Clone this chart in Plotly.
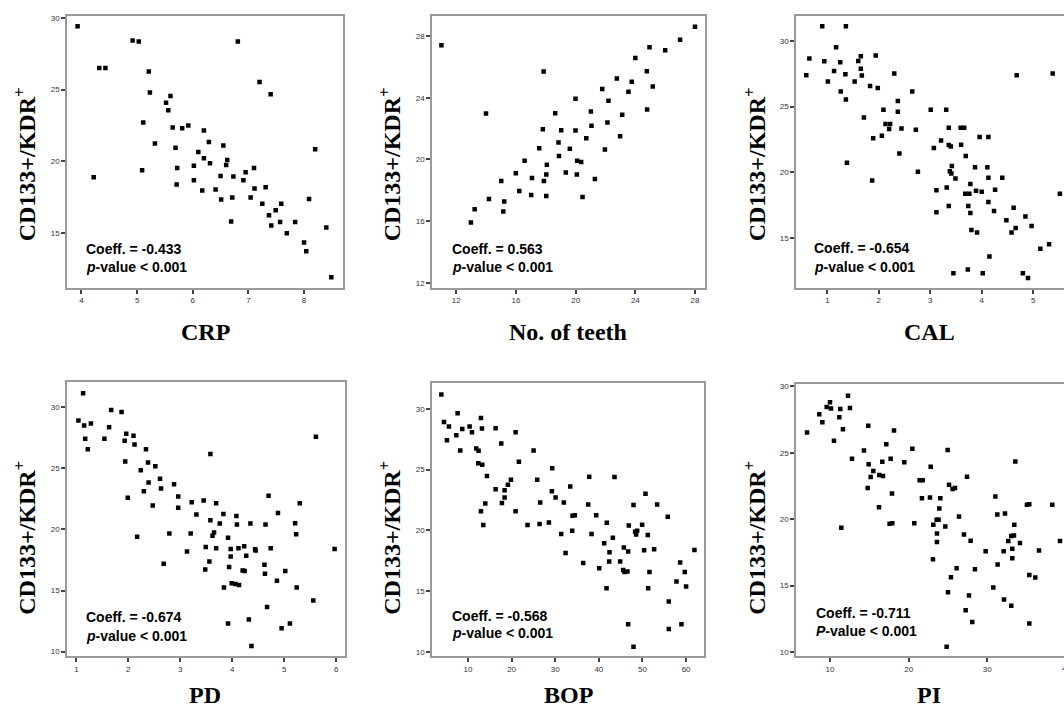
import plotly.graph_objects as go

W, H = 1064, 709

# ---------------- data ----------------
crp_x = [3.93, 4.92, 5.03, 6.81, 4.32, 4.43, 5.21, 7.20, 5.23, 7.40,
         5.60, 5.52, 5.56, 5.11, 5.64, 5.81, 5.92, 6.20, 6.29, 5.32,
         6.55, 5.69, 8.20, 6.10, 6.20, 6.62, 6.31, 6.60, 6.02, 5.72,
         7.10, 6.95, 5.09, 4.22, 6.50, 6.73, 6.91, 6.02, 5.71, 7.11,
         7.31, 6.17, 6.41, 7.04, 6.71, 6.51, 8.09, 7.25, 7.59, 7.49,
         7.37, 6.69, 7.41, 7.57, 7.84, 7.69, 8.40, 8.00, 8.04, 8.49]
crp_y = [29.42, 28.43, 28.36, 28.36, 26.51, 26.51, 26.26, 25.54, 24.80, 24.67,
         24.55, 24.09, 23.56, 22.70, 22.36, 22.31, 22.49, 22.15, 21.34, 21.25,
         21.11, 20.95, 20.85, 20.65, 20.21, 20.09, 19.86, 19.75, 19.70, 19.54,
         19.54, 19.24, 19.38, 18.89, 18.97, 18.94, 18.68, 18.68, 18.38, 18.11,
         18.20, 17.97, 18.04, 17.48, 17.48, 17.34, 17.37, 17.04, 17.04, 16.58,
         16.24, 15.80, 15.52, 15.77, 15.77, 14.99, 15.38, 14.34, 13.72, 11.92]

teeth_x = [11.0, 28.0, 27.0, 26.0, 24.95, 24.0, 17.85, 24.77, 22.76, 23.76,
           25.17, 23.54, 21.78, 19.99, 22.2, 13.99, 18.63, 21.02, 23.12, 24.79,
           17.80, 19.03, 19.99, 21.06, 22.13, 22.98, 18.85, 20.71, 17.56, 19.61,
           21.96, 16.58, 18.88, 20.10, 20.37, 18.07, 15.99, 18.03, 19.34, 20.08,
           17.07, 21.29, 15.01, 17.87, 16.22, 17.02, 18.03, 20.46, 14.19, 15.21,
           15.15, 13.23, 12.98]
teeth_y = [27.40, 28.60, 27.76, 27.08, 27.27, 26.58, 25.70, 25.72, 25.25, 25.03,
           24.73, 24.39, 24.56, 23.94, 23.81, 22.97, 22.99, 23.10, 22.90, 23.23,
           21.96, 21.89, 21.87, 22.19, 22.39, 21.51, 21.10, 21.38, 20.73, 20.69,
           20.65, 19.91, 20.22, 19.91, 19.83, 19.66, 19.10, 19.03, 19.16, 19.03,
           18.80, 18.73, 18.60, 18.60, 17.96, 17.70, 17.63, 17.57, 17.44, 17.27,
           16.62, 16.77, 15.91]

cal_x = [0.90, 1.36, 1.17, 0.65, 0.94, 0.59, 1.13, 1.25, 1.60, 1.65,
         1.94, 1.65, 1.67, 1.35, 1.01, 1.53, 2.30, 1.26, 1.36, 1.83,
         1.98, 2.65, 2.37, 2.37, 2.09, 1.71, 3.01, 3.31, 2.13, 2.22,
         2.20, 2.44, 2.72, 3.36, 3.59, 3.66, 1.89, 2.06, 3.21, 3.96,
         4.13, 3.07, 3.36, 3.40, 3.60, 2.40, 3.69, 1.38, 3.42, 3.87,
         4.11, 2.76, 3.38, 3.41, 3.49, 4.13, 4.40, 1.87, 3.78, 3.32,
         3.12, 3.89, 4.00, 4.26, 3.68, 3.76, 5.52, 4.13, 3.36, 3.74,
         4.62, 4.24, 3.12, 3.78, 4.48, 4.85, 4.97, 4.66, 3.80, 3.91,
         4.58, 5.14, 5.31, 4.15, 3.45, 3.73, 4.02, 4.80, 4.90, 4.68,
         5.38]
cal_y = [31.14, 31.14, 29.54, 28.68, 28.46, 27.39, 27.72, 28.38, 28.48, 28.84,
         28.91, 27.90, 27.37, 27.47, 26.91, 26.91, 27.52, 26.15, 25.54, 26.58,
         26.43, 26.15, 25.44, 24.61, 24.76, 24.18, 24.76, 24.76, 23.67, 23.67,
         23.29, 23.34, 23.24, 23.39, 23.39, 23.39, 22.58, 22.78, 22.41, 22.68,
         22.68, 21.85, 22.08, 21.95, 22.10, 21.42, 21.24, 20.71, 20.48, 20.38,
         20.38, 20.03, 20.08, 19.90, 19.52, 19.57, 19.57, 19.37, 19.09, 18.84,
         18.63, 18.58, 18.51, 18.66, 18.35, 18.35, 18.35, 17.72, 17.42, 17.42,
         17.29, 17.04, 16.94, 16.89, 16.33, 16.61, 15.90, 15.75, 15.59, 15.39,
         15.39, 14.15, 14.51, 13.57, 12.28, 12.58, 12.28, 12.28, 11.92, 27.39,
         27.52]

pd_x = [1.13, 1.04, 1.15, 1.28, 1.17, 1.22, 1.67, 1.87, 1.63, 1.54,
        1.96, 1.93, 2.10, 2.12, 2.34, 1.94, 2.38, 2.52, 2.24, 2.61,
        2.39, 2.63, 2.88, 2.30, 1.99, 2.96, 2.47, 2.96, 3.22, 3.45,
        3.69, 3.58, 3.31, 3.58, 3.83, 3.76, 4.08, 4.09, 4.35, 4.64,
        4.70, 4.88, 5.30, 5.21, 5.23, 5.61, 2.17, 2.79, 3.20, 3.65,
        3.62, 3.92, 3.49, 3.69, 3.97, 4.12, 4.23, 4.44, 4.45, 4.74,
        5.97, 3.13, 3.56, 3.97, 4.27, 4.62, 3.48, 3.94, 4.20, 4.24,
        4.63, 5.02, 2.68, 4.86, 3.99, 4.06, 4.13, 3.84, 5.24, 5.56,
        4.67, 4.32, 3.92, 4.95, 5.11, 4.37]
pd_y = [31.16, 28.92, 28.51, 28.68, 27.43, 26.57, 29.78, 29.62, 28.38, 27.43,
        27.84, 27.27, 27.68, 26.97, 26.57, 25.57, 25.49, 25.19, 24.86, 24.16,
        23.84, 23.35, 23.70, 23.14, 22.59, 22.70, 21.97, 21.78, 22.24, 22.38,
        22.14, 26.19, 21.22, 20.76, 21.27, 20.49, 21.11, 20.41, 20.49, 20.41,
        22.76, 21.35, 22.14, 20.51, 19.62, 27.59, 19.41, 19.68, 19.68, 19.76,
        19.49, 19.32, 18.57, 18.46, 18.41, 18.46, 18.62, 18.38, 18.27, 18.46,
        18.41, 18.19, 17.38, 17.78, 17.84, 17.11, 16.73, 16.92, 16.65, 16.59,
        16.38, 16.59, 17.19, 15.81, 15.59, 15.54, 15.46, 15.24, 15.24, 14.19,
        13.65, 12.62, 12.30, 11.92, 12.30, 10.46]

bop_x = [3.9, 4.5, 5.65, 5.19, 7.63, 7.33, 8.24, 8.70, 10.38, 10.92,
         12.98, 13.21, 11.91, 12.44, 12.37, 13.28, 14.35, 16.34, 17.63, 20.92,
         16.34, 18.40, 19.16, 19.85, 18.40, 17.79, 21.68, 25.04, 25.88, 12.98,
         13.97, 13.51, 20.92, 23.66, 26.56, 26.41, 28.55, 29.31, 29.24, 30.08,
         31.98, 33.44, 33.97, 34.50, 33.89, 31.37, 32.37, 37.79, 37.56, 39.39,
         38.32, 41.22, 41.83, 43.21, 42.44, 42.37, 43.59, 36.41, 40.08, 41.76,
         44.89, 45.73, 46.72, 45.57, 45.88, 46.56, 46.87, 47.94, 48.32, 48.78,
         48.55, 49.92, 50.69, 50.38, 51.22, 51.60, 51.30, 52.67, 53.36, 46.72,
         47.94, 55.80, 56.03, 56.03, 57.79, 58.63, 58.93, 59.69, 60.0, 61.91]
bop_y = [31.17, 28.91, 28.53, 27.41, 29.62, 27.82, 26.57, 28.34, 28.53, 28.07,
         29.24, 28.37, 26.73, 26.54, 25.53, 25.40, 24.47, 28.39, 27.14, 28.07,
         23.38, 23.30, 23.76, 24.17, 22.70, 22.26, 25.64, 26.57, 24.17, 21.58,
         22.21, 20.44, 21.58, 20.44, 22.29, 20.54, 20.65, 25.10, 23.22, 22.70,
         22.29, 23.60, 21.20, 21.25, 19.97, 19.70, 18.15, 24.41, 22.13, 21.25,
         19.70, 18.94, 20.63, 19.40, 18.20, 17.44, 24.39, 17.33, 16.89, 15.26,
         17.44, 18.61, 18.28, 16.76, 16.59, 16.62, 20.41, 22.10, 19.89, 19.97,
         19.67, 20.46, 23.02, 18.37, 19.62, 16.59, 15.26, 18.45, 22.13, 12.29,
         10.44, 21.12, 14.17, 11.91, 15.80, 17.36, 12.29, 16.59, 15.40, 18.39]

pi_x = [7.08, 8.64, 9.03, 9.58, 10.0, 10.13, 10.51, 11.19, 11.31, 11.65,
        12.29, 12.54, 11.44, 12.80, 14.32, 14.87, 14.92, 14.79, 15.17, 15.51,
        16.23, 16.27, 16.65, 16.74, 17.16, 17.71, 18.14, 17.88, 17.58, 17.92,
        19.45, 20.47, 20.72, 21.40, 21.78, 21.69, 22.71, 22.80, 24.03, 23.90,
        23.14, 23.56, 23.81, 23.60, 23.60, 23.09, 24.66, 24.96, 25.13, 25.59,
        25.89, 26.40, 26.10, 25.0, 25.38, 27.42, 27.03, 27.88, 28.43, 27.25,
        27.67, 28.09, 24.83, 29.79, 30.76, 31.02, 31.27, 31.31, 32.08, 32.12,
        32.25, 32.67, 33.05, 33.18, 33.18, 33.05, 33.39, 33.43, 33.56, 34.15,
        35.04, 35.34, 35.34, 36.10, 35.34, 36.57, 38.26, 39.24]
pi_y = [26.53, 27.90, 27.30, 28.45, 28.80, 28.33, 25.90, 27.68, 28.30, 26.78,
        29.30, 28.38, 19.35, 24.55, 25.18, 27.03, 24.13, 22.35, 23.18, 23.63,
        20.90, 23.33, 24.33, 23.25, 25.65, 24.55, 26.68, 21.93, 19.65, 19.70,
        24.28, 25.30, 19.70, 22.93, 22.93, 21.58, 21.63, 23.95, 21.58, 20.80,
        19.58, 19.95, 19.95, 18.93, 18.28, 16.98, 19.45, 25.20, 22.60, 22.28,
        22.35, 20.20, 16.30, 14.50, 15.63, 23.20, 18.85, 18.38, 16.23, 13.15,
        14.25, 12.25, 10.40, 17.58, 14.85, 21.70, 20.35, 16.58, 17.58, 13.95,
        20.43, 18.35, 18.73, 17.78, 17.05, 13.48, 18.78, 19.58, 24.35, 18.20,
        21.08, 21.13, 15.80, 15.60, 12.15, 17.65, 21.08, 18.35]

x_titles = ["CRP", "No. of teeth", "CAL", "PD", "BOP", "PI"]
coeffs = ["-0.433", "0.563", "-0.654", "-0.674", "-0.568", "-0.711"]
p_letters = ["p", "p", "p", "p", "p", "P"]
x_ticks = [[4, 5, 6, 7, 8], [12, 16, 20, 24, 28], [1, 2, 3, 4, 5, 6],
           [1, 2, 3, 4, 5, 6], [10, 20, 30, 40, 50, 60], [10, 20, 30, 40]]
y_ticks = [[15, 20, 25, 30], [12, 16, 20, 24, 28], [15, 20, 25, 30],
           [10, 15, 20, 25, 30], [10, 15, 20, 25, 30], [10, 15, 20, 25, 30]]

series = [(crp_x, crp_y), (teeth_x, teeth_y), (cal_x, cal_y),
          (pd_x, pd_y), (bop_x, bop_y), (pi_x, pi_y)]

# ---------------- layout geometry (pixels) ----------------
boxes = [(67, 343, 14, 287), (432, 705, 14, 287), (796, 1064, 14, 287),
         (67, 345, 382, 657), (432, 704, 383, 657), (796, 1064, 384, 657)]
x_ranges = [[3.74, 8.70], [10.37, 28.67], [0.39, 5.6],
            [0.82, 6.17], [1.76, 64.1], [5.68, 39.75]]
y_ranges = [[11.18, 30.14], [11.68, 29.3], [11.18, 31.92],
            [9.62, 32.05], [9.67, 32.08], [9.68, 30.15]]
ytitle_x = [25, 390, 755, 25, 390, 755]
ytitle_y = [163, 163, 163, 538, 538, 538]
xtitle_cx = [205, 568, 929, 205, 568, 929]
xtitle_y = [331, 331, 331, 696, 696, 696]
ann_x = [84, 450, 812, 84, 450, 814]
ann_y1 = [248, 248, 247, 618, 617, 614]
ann_y2 = [266, 266, 266, 637, 634, 632]

fig = go.Figure()
ann = []
for i, (xs, ys) in enumerate(series):
    n = "" if i == 0 else str(i + 1)
    fig.add_trace(go.Scatter(
        x=xs, y=ys, mode="markers", xaxis="x" + n, yaxis="y" + n,
        marker=dict(symbol="square", size=4.5, color="black", line=dict(width=0)),
        showlegend=False, hoverinfo="x+y"))
    x0, x1, y0, y1 = boxes[i]
    edge = i in (2, 5)
    common = dict(showgrid=False, zeroline=False, showline=True,
                  linecolor="#9a9a9a", linewidth=1.5, ticks="outside",
                  ticklen=4, tickwidth=1.5, tickcolor="#444",
                  tickfont=dict(family="Liberation Sans", size=8, color="#333"))
    fig.update_layout(**{
        "xaxis" + n: dict(domain=[x0 / W, x1 / W], range=x_ranges[i],
                          anchor="y" + n, tickvals=x_ticks[i], mirror=True, **common),
        "yaxis" + n: dict(domain=[1 - y1 / H, 1 - y0 / H], range=y_ranges[i],
                          anchor="x" + n, tickvals=y_ticks[i],
                          mirror=(not edge), **common),
    })
    ann.append(dict(x=ytitle_x[i] / W, y=1 - ytitle_y[i] / H, xref="paper", yref="paper",
                    text="<b>CD133+/KDR<sup>+</sup></b>", textangle=-90, showarrow=False,
                    xanchor="center", yanchor="middle",
                    font=dict(family="Liberation Serif", size=24, color="black")))
    ann.append(dict(x=xtitle_cx[i] / W, y=1 - xtitle_y[i] / H, xref="paper", yref="paper",
                    text="<b>" + x_titles[i] + "</b>", showarrow=False,
                    xanchor="center", yanchor="middle",
                    font=dict(family="Liberation Serif", size=24, color="black")))
    ann.append(dict(x=ann_x[i] / W, y=1 - ann_y1[i] / H, xref="paper", yref="paper",
                    text="<b>Coeff. = " + coeffs[i] + "</b>", showarrow=False,
                    xanchor="left", yanchor="middle",
                    font=dict(family="Liberation Sans", size=14, color="black")))
    ann.append(dict(x=ann_x[i] / W, y=1 - ann_y2[i] / H, xref="paper", yref="paper",
                    text="<b><i>" + p_letters[i] + "</i>-value &lt; 0.001</b>", showarrow=False,
                    xanchor="left", yanchor="middle",
                    font=dict(family="Liberation Sans", size=14, color="black")))

# partially visible "40" tick label at the clipped right edge of the PI panel
ann.append(dict(x=1066 / W, y=1 - 669 / H, xref="paper", yref="paper", text="40",
                showarrow=False, xanchor="center", yanchor="middle",
                font=dict(family="Liberation Sans", size=8, color="#333")))

fig.update_layout(width=W, height=H, margin=dict(l=0, r=0, t=0, b=0),
                  paper_bgcolor="white", plot_bgcolor="white", annotations=ann)

fig.write_html("out.html", config={"displayModeBar": False},
               post_script="document.body.style.margin='0';document.body.style.overflow='hidden';")
